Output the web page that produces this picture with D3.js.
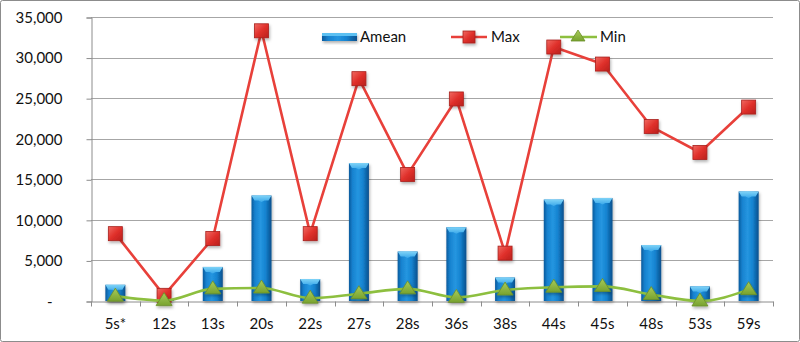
<!DOCTYPE html>
<html>
<head>
<meta charset="utf-8">
<script src="https://cdn.jsdelivr.net/npm/d3@7/dist/d3.min.js"></script>
<style>
  html, body { margin: 0; padding: 0; background: #fff; }
  svg { display: block; }
  text { font-family: Lato, "Open Sans", sans-serif; fill: #111; }
</style>
</head>
<body>
<svg id="chart" width="800" height="342"></svg>
<script>
// Categories and the three series
const categories = ["5s*", "12s", "13s", "20s", "22s", "27s", "28s", "36s", "38s", "44s", "45s", "48s", "53s", "59s"];
const ameanValues = [2000, 100, 4200, 13000, 2700, 17000, 6100, 9100, 2900, 12500, 12700, 6900, 1800, 13500];
const maxValues = [8300, 700, 7700, 33300, 8300, 27400, 15600, 24900, 5900, 31300, 29200, 21500, 18300, 23900];
const minValues = [600, 50, 1500, 1600, 350, 900, 1500, 450, 1350, 1700, 1800, 800, 0, 1400];
const yTicks = [0, 5000, 10000, 15000, 20000, 25000, 30000, 35000];
const seriesNames = ["Amean", "Max", "Min"];

const svg = d3.select("#chart");
const W = 800, H = 342;
const plot = { left: 91, right: 773, top: 17, bottom: 301 };

const x = d3.scaleBand().domain(categories).range([plot.left, plot.right]).padding(0);
const y = d3.scaleLinear().domain([0, 35000]).range([plot.bottom, plot.top]);

// Outer frame
svg.append("rect")
  .attr("x", 0.5).attr("y", 0.5).attr("width", W - 1).attr("height", H - 1)
  .attr("rx", 2).attr("fill", "#fff").attr("stroke", "#8c8c8c");

const defs = svg.append("defs");
const barGrad = defs.append("linearGradient").attr("id", "barGrad")
  .attr("x1", "0").attr("x2", "1").attr("y1", "0").attr("y2", "0");
[["0%", "#0a5a9c"], ["18%", "#1782cf"], ["45%", "#2596e0"], ["70%", "#1583d0"], ["100%", "#094f8c"]]
  .forEach(([o, c]) => barGrad.append("stop").attr("offset", o).attr("stop-color", c));
const topGrad = defs.append("linearGradient").attr("id", "topGrad")
  .attr("x1", "0").attr("x2", "0").attr("y1", "0").attr("y2", "1");
[["0%", "#7fd3f7"], ["100%", "#3aa8ea"]]
  .forEach(([o, c]) => topGrad.append("stop").attr("offset", o).attr("stop-color", c));
const sqGrad = defs.append("linearGradient").attr("id", "sqGrad")
  .attr("x1", "0").attr("x2", "1").attr("y1", "0").attr("y2", "1");
[["0%", "#f06a62"], ["50%", "#e0302b"], ["100%", "#b8201c"]]
  .forEach(([o, c]) => sqGrad.append("stop").attr("offset", o).attr("stop-color", c));
const triGrad = defs.append("linearGradient").attr("id", "triGrad")
  .attr("x1", "0").attr("x2", "0").attr("y1", "0").attr("y2", "1");
[["0%", "#a8cc5a"], ["100%", "#78a22e"]]
  .forEach(([o, c]) => triGrad.append("stop").attr("offset", o).attr("stop-color", c));
const shadow = defs.append("filter").attr("id", "shadow")
  .attr("x", "-50%").attr("y", "-50%").attr("width", "200%").attr("height", "200%");
shadow.append("feDropShadow").attr("dx", 1).attr("dy", 2).attr("stdDeviation", 1.5)
  .attr("flood-color", "#000").attr("flood-opacity", 0.3);

// Gridlines
svg.append("g").selectAll("line").data(yTicks.filter(d => d > 0)).join("line")
  .attr("x1", plot.left).attr("x2", plot.right)
  .attr("y1", d => Math.round(y(d)) + 0.5).attr("y2", d => Math.round(y(d)) + 0.5)
  .attr("stroke", "#a6a6a6").attr("stroke-width", 1);

// Y axis
const yAxis = d3.axisLeft(y).tickValues(yTicks).tickSize(5).tickPadding(24)
  .tickFormat(d => d === 0 ? "-" : d3.format(",")(d));
const gy = svg.append("g").attr("transform", `translate(${plot.left + 0.5},0.5)`).call(yAxis);
gy.select(".domain").attr("stroke", "#8c8c8c");
gy.selectAll(".tick line").attr("stroke", "#8c8c8c");
gy.selectAll(".tick text").attr("font-size", 15).attr("font-family", "Lato, sans-serif").attr("fill", "#111");
gy.selectAll(".tick").filter(d => d === 0).select("text").attr("dx", -10);

// X axis
const xAxis = d3.axisBottom(x).tickSize(0).tickPadding(17);
const gx = svg.append("g").attr("transform", `translate(0,${plot.bottom + 0.5})`).call(xAxis);
gx.select(".domain").attr("stroke", "#8c8c8c");
gx.selectAll(".tick text").attr("font-size", 15).attr("font-family", "Lato, sans-serif").attr("fill", "#111");
// Category separator ticks
const bounds = categories.map(c => x(c)).concat([plot.right]);
gx.append("g").selectAll("line").data(bounds).join("line")
  .attr("x1", d => Math.round(d) + 0.5).attr("x2", d => Math.round(d) + 0.5)
  .attr("y1", 0).attr("y2", 5).attr("stroke", "#8c8c8c");

// Amean bars
const barW = 20;
const bars = svg.append("g").attr("filter", "url(#shadow)");
categories.forEach((c, i) => {
  const cx = x(c) + x.bandwidth() / 2;
  const top = y(ameanValues[i]);
  const h = y(0) - top;
  if (h <= 0) return;
  const g = bars.append("g");
  g.append("rect").attr("x", cx - barW / 2).attr("y", top).attr("width", barW).attr("height", h)
    .attr("fill", "url(#barGrad)");
  const bev = Math.min(5, h / 2);
  g.append("path")
    .attr("d", `M${cx - barW / 2},${top} L${cx + barW / 2},${top} L${cx + barW / 2 - 3},${top + bev} L${cx + 3},${top + bev} L${cx},${top + bev + 1.5} L${cx - 3},${top + bev} L${cx - barW / 2 + 3},${top + bev} Z`)
    .attr("fill", "url(#topGrad)");
});

// Max line with square markers
const lineMax = d3.line().x((d, i) => x(categories[i]) + x.bandwidth() / 2).y(d => y(d));
svg.append("path").datum(maxValues).attr("d", lineMax)
  .attr("fill", "none").attr("stroke", "#e8403a").attr("stroke-width", 2.6).attr("stroke-linejoin", "round");
const sq = 14;
svg.append("g").attr("filter", "url(#shadow)").selectAll("rect").data(maxValues).join("rect")
  .attr("x", (d, i) => x(categories[i]) + x.bandwidth() / 2 - sq / 2)
  .attr("y", d => y(d) - sq / 2)
  .attr("width", sq).attr("height", sq)
  .attr("fill", "url(#sqGrad)").attr("stroke", "#a8201c").attr("stroke-width", 0.8);

// Min line (smoothed) with triangle markers
const lineMin = d3.line().curve(d3.curveMonotoneX)
  .x((d, i) => x(categories[i]) + x.bandwidth() / 2).y(d => y(d));
svg.append("path").datum(minValues).attr("d", lineMin)
  .attr("fill", "none").attr("stroke", "#8dbf3f").attr("stroke-width", 2.6);
const tri = (cx, cy) => `M${cx},${cy - 8} L${cx + 8},${cy + 5} L${cx - 8},${cy + 5} Z`;
svg.append("g").attr("filter", "url(#shadow)").selectAll("path").data(minValues).join("path")
  .attr("d", (d, i) => tri(x(categories[i]) + x.bandwidth() / 2, y(d)))
  .attr("fill", "url(#triGrad)").attr("stroke", "#6b8f28").attr("stroke-width", 0.8);

// Legend
const legend = svg.append("g");
const ly = 37;
legend.append("rect").attr("x", 322).attr("y", ly - 4).attr("width", 35).attr("height", 8)
  .attr("fill", "url(#barGrad)").attr("filter", "url(#shadow)");
legend.append("rect").attr("x", 322).attr("y", ly - 4).attr("width", 35).attr("height", 3)
  .attr("fill", "#5cc0f2");
legend.append("text").attr("x", 360).attr("y", ly).attr("dy", "0.35em").attr("font-size", 15).text(seriesNames[0]);

legend.append("line").attr("x1", 451).attr("x2", 487).attr("y1", ly).attr("y2", ly)
  .attr("stroke", "#e8403a").attr("stroke-width", 2.6);
legend.append("rect").attr("x", 469 - 6).attr("y", ly - 6).attr("width", 12).attr("height", 12)
  .attr("fill", "url(#sqGrad)").attr("stroke", "#a8201c").attr("stroke-width", 0.8).attr("filter", "url(#shadow)");
legend.append("text").attr("x", 491).attr("y", ly).attr("dy", "0.35em").attr("font-size", 15).text(seriesNames[1]);

legend.append("line").attr("x1", 560).attr("x2", 597).attr("y1", ly).attr("y2", ly)
  .attr("stroke", "#8dbf3f").attr("stroke-width", 2.6);
legend.append("path").attr("d", `M578,${ly - 7} L585,${ly + 4} L571,${ly + 4} Z`)
  .attr("fill", "url(#triGrad)").attr("stroke", "#6b8f28").attr("stroke-width", 0.8);
legend.append("text").attr("x", 600).attr("y", ly).attr("dy", "0.35em").attr("font-size", 15).text(seriesNames[2]);
</script>
</body>
</html>
